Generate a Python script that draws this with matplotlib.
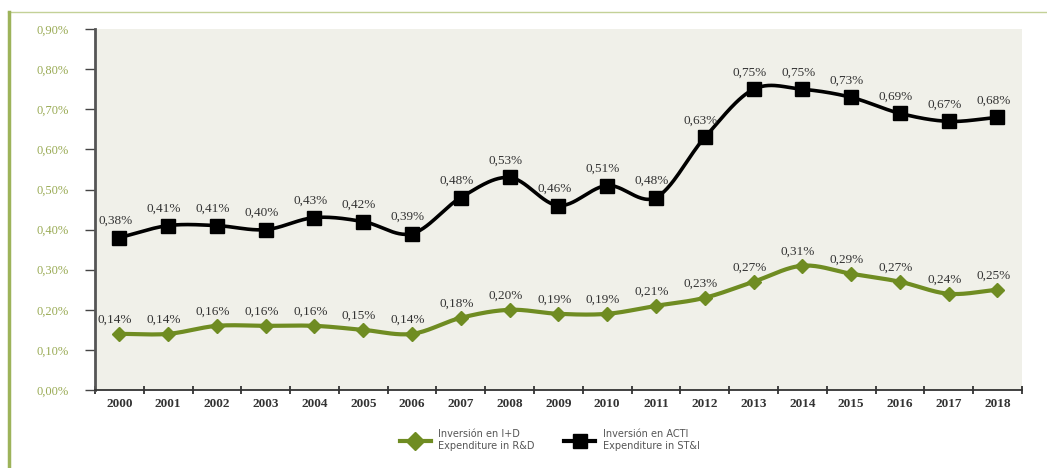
"""Inversión en I+D y en ACTI como porcentaje del PIB, 2000-2018."""

import numpy as np
from matplotlib import pyplot as plt
from matplotlib.lines import Line2D

years = [str(y) for y in range(2000, 2019)]
acti = [0.38, 0.41, 0.41, 0.40, 0.43, 0.42, 0.39, 0.48, 0.53, 0.46,
        0.51, 0.48, 0.63, 0.75, 0.75, 0.73, 0.69, 0.67, 0.68]
idi = [0.14, 0.14, 0.16, 0.16, 0.16, 0.15, 0.14, 0.18, 0.20, 0.19,
       0.19, 0.21, 0.23, 0.27, 0.31, 0.29, 0.27, 0.24, 0.25]
yticks = [0.0, 0.1, 0.2, 0.3, 0.4, 0.5, 0.6, 0.7, 0.8, 0.9]

GREEN = "#6f8c22"
LABEL_GREEN = "#9aab55"
BG = "#f0f0e9"
SERIF = ["Liberation Serif", "DejaVu Serif"]


def smooth(x, y, n=30):
    """Catmull-Rom curve through the points, like a smoothed Excel line."""
    x = np.asarray(x, dtype=float)
    y = np.asarray(y, dtype=float)
    px = np.concatenate([[2 * x[0] - x[1]], x, [2 * x[-1] - x[-2]]])
    py = np.concatenate([[2 * y[0] - y[1]], y, [2 * y[-1] - y[-2]]])
    t = np.linspace(0, 1, n, endpoint=False)
    xs, ys = [], []
    for i in range(1, len(px) - 2):
        for p, out in ((px, xs), (py, ys)):
            p0, p1, p2, p3 = p[i - 1], p[i], p[i + 1], p[i + 2]
            out.append(0.5 * (2 * p1 + (-p0 + p2) * t
                              + (2 * p0 - 5 * p1 + 4 * p2 - p3) * t ** 2
                              + (-p0 + 3 * p1 - 3 * p2 + p3) * t ** 3))
    xs.append([x[-1]])
    ys.append([y[-1]])
    return np.concatenate(xs), np.concatenate(ys)


def pct(v):
    return f"{v:.2f}%".replace(".", ",")


def main():
    fig = plt.figure(figsize=(10.47, 4.68), dpi=100)
    ax = fig.add_axes([0.0907, 0.1667, 0.8853, 0.771])
    ax.set_facecolor(BG)

    pos = np.arange(len(years))

    sx, sy = smooth(pos, acti)
    ax.plot(sx, sy, color="black", lw=2.6, zorder=3)
    ax.plot(pos, acti, ls="none", marker="s", ms=9.5, color="black", zorder=4)

    gx, gy = smooth(pos, idi)
    ax.plot(gx, gy, color=GREEN, lw=3, zorder=3)
    ax.plot(pos, idi, ls="none", marker="D", ms=7, color=GREEN, zorder=4)

    for x, v in zip(pos, acti):
        ax.annotate(pct(v), (x, v), xytext=(-3, 10), textcoords="offset points",
                    ha="center", fontsize=9.5, color="#333333", family=SERIF)
    for x, v in zip(pos, idi):
        ax.annotate(pct(v), (x, v), xytext=(-3, 8), textcoords="offset points",
                    ha="center", fontsize=9.5, color="#333333", family=SERIF)

    ax.set_xlim(-0.5, len(years) - 0.5)
    ax.set_ylim(0, 0.9)
    ax.set_yticks(yticks, labels=[pct(v) for v in yticks])
    ax.set_xticks(pos, labels=years)
    ax.set_xticks(np.arange(-0.5, len(years)), minor=True)

    for label in ax.get_yticklabels():
        label.set(color=LABEL_GREEN, family=SERIF, fontsize=9)
    for label in ax.get_xticklabels():
        label.set(color="#333333", family=SERIF, fontsize=9.5, fontweight="bold")

    ax.tick_params(axis="x", which="major", length=0, pad=6)
    ax.tick_params(axis="x", which="minor", length=6, width=1.3,
                   direction="inout", color="#333333")
    ax.tick_params(axis="y", length=7, width=1, color="#444444", pad=12)

    for side in ("top", "right"):
        ax.spines[side].set_visible(False)
    ax.spines["left"].set(color="#555555", lw=2)
    ax.spines["bottom"].set(color="#333333", lw=1.3)

    handles = [
        Line2D([], [], color=GREEN, lw=3, marker="D", ms=9),
        Line2D([], [], color="black", lw=3, marker="s", ms=10),
    ]
    fig.legend(
        handles,
        ["Inversión en I+D\nExpenditure in R&D", "Inversión en ACTI\nExpenditure in ST&I"],
        loc="center", bbox_to_anchor=(0.525, 0.06), ncol=2, frameon=False,
        fontsize=7, labelcolor="#555555", handlelength=3.2, columnspacing=3,
    )

    # frame lines around the figure panel
    fig.add_artist(Line2D([8 / 1047, 1], [1 - 12 / 468] * 2,
                          transform=fig.transFigure, color="#c3d197", lw=1))
    fig.add_artist(Line2D([9 / 1047] * 2, [0, 1 - 12 / 468],
                          transform=fig.transFigure, color="#9db35a", lw=2.5))

    fig.savefig("out.png", dpi=100)


if __name__ == "__main__":
    main()
